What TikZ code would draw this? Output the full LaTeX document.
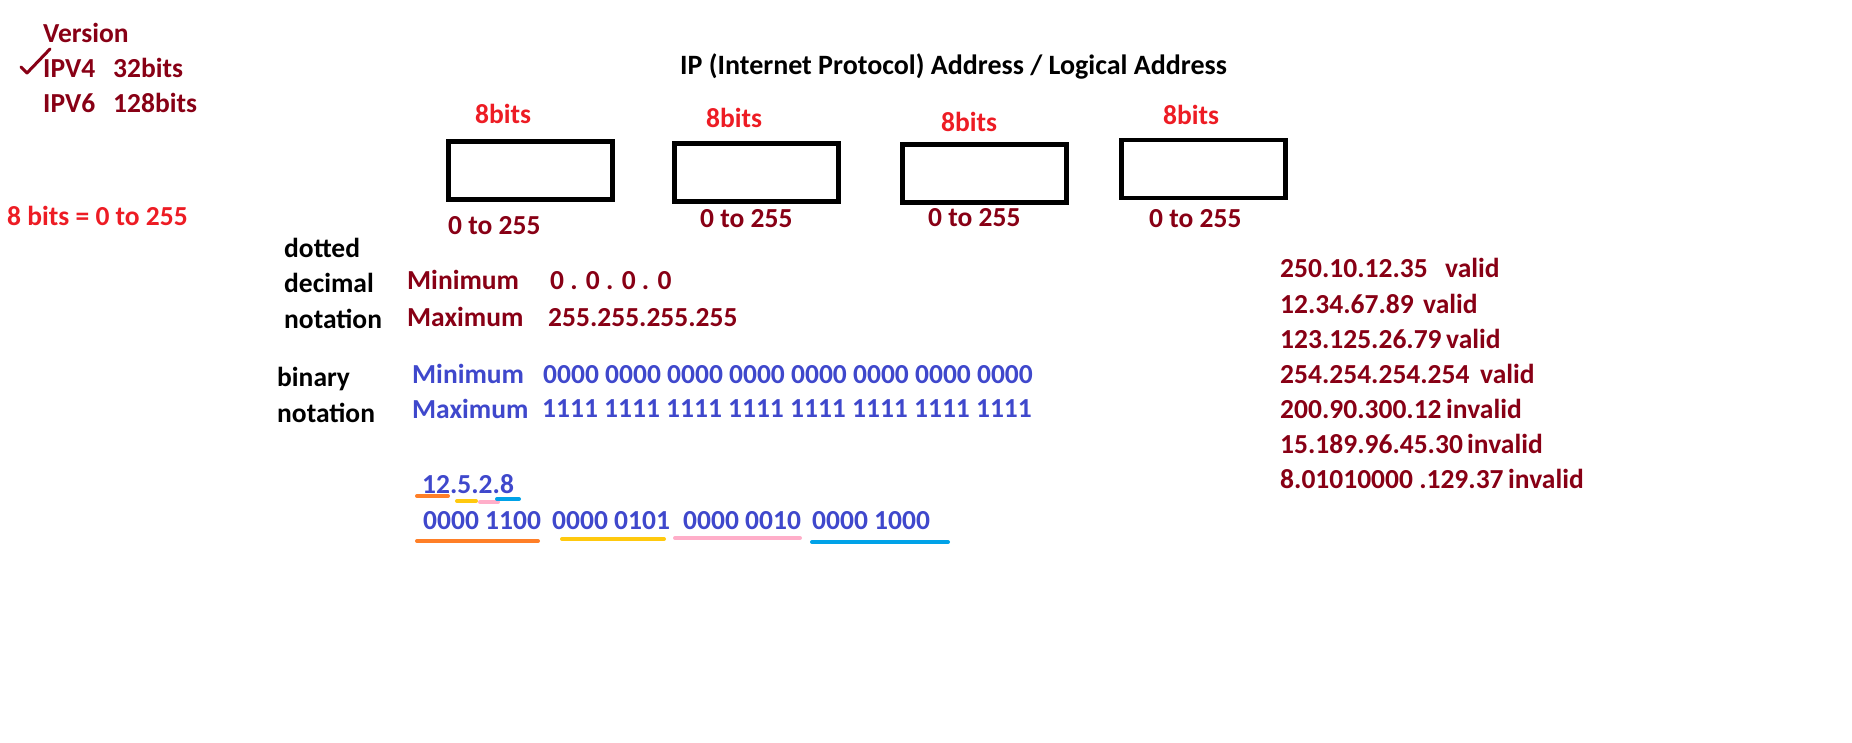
\documentclass[tikz,border=0pt]{standalone}
\usepackage{fontspec}
\setmainfont{Carlito}
\definecolor{ipmaroon}{HTML}{880015}
\definecolor{ipred}{HTML}{ED1C24}
\definecolor{ipblue}{HTML}{3F48CC}
\definecolor{iporange}{HTML}{FF7F27}
\definecolor{ipyellow}{HTML}{FFC90E}
\definecolor{ippink}{HTML}{FFAEC9}
\definecolor{ipcyan}{HTML}{00A2E8}
\begin{document}
\begin{tikzpicture}[x=1pt,y=-1pt,
    txt/.style={anchor=base west,inner sep=0pt,font=\bfseries\fontsize{27.5}{30}\selectfont},
    maroon/.style={txt,text=ipmaroon},
    redtxt/.style={txt,text=ipred},
    bluetxt/.style={txt,text=ipblue},
    ipbox/.style={draw,line width=4.5pt,minimum width=164pt,minimum height=58pt,inner sep=0pt},
    uline/.style={line width=4pt,line cap=round}]
    \useasboundingbox (0,0) rectangle (1852,743);
    % versions
    \node[maroon] (version) at (43,43) {Version};
    \node[maroon] (ipv4) at (43,78) {IPV4};
    \node[maroon] (ipv4len) at (113,78) {32bits};
    \node[maroon] (ipv6) at (43,113) {IPV6};
    \node[maroon] (ipv6len) at (113,113) {128bits};
    \draw[ipmaroon,line width=3pt,line cap=round,line join=round](21,67)--(27,73)--(50,49);
    \node[redtxt] (range) at (7,226) {8 bits = 0 to 255};
    % title
    \node[txt,font=\bfseries\fontsize{28}{30}\selectfont] (title) at (680,75) {IP (Internet Protocol) Address / Logical Address};
    % four octets
    \node[ipbox] (box1) at (530.5,170.5) {};
    \node[ipbox] (box2) at (756.5,172.5) {};
    \node[ipbox] (box3) at (984.5,173.5) {};
    \node[ipbox] (box4) at (1203.5,169) {};
    \node[redtxt] (bits1) at (475,124) {8bits};
    \node[redtxt] (bits2) at (706,128) {8bits};
    \node[redtxt] (bits3) at (941,132) {8bits};
    \node[redtxt] (bits4) at (1163,125) {8bits};
    \node[maroon] (rng1) at (448,235) {0 to 255};
    \node[maroon] (rng2) at (700,228) {0 to 255};
    \node[maroon] (rng3) at (928,227) {0 to 255};
    \node[maroon] (rng4) at (1149,228) {0 to 255};
    % dotted decimal
    \node[txt] (dotted) at (284,258) {dotted};
    \node[txt] (decimal) at (284,293) {decimal};
    \node[txt] (notation1) at (284,328) {notation};
    \node[maroon] (dmin) at (407,290) {Minimum};
    \node[maroon] (dminval) at (550,290) {0 . 0 . 0 . 0};
    \node[maroon] (dmax) at (407,326) {Maximum};
    \node[maroon] (dmaxval) at (548,326) {255.255.255.255};
    % binary
    \node[txt] (binary) at (277,386) {binary};
    \node[txt] (notation2) at (277,422) {notation};
    \node[bluetxt] (bmin) at (412,383) {Minimum};
    \node[bluetxt] (bminval) at (543,383) {0000 0000 0000 0000 0000 0000 0000 0000};
    \node[bluetxt] (bmax) at (412,418) {Maximum};
    \node[bluetxt] (bmaxval) at (542,417) {1111 1111 1111 1111 1111 1111 1111 1111};
    % example
    \node[bluetxt] (example) at (422,493) {12.5.2.8};
    \node[bluetxt] (oct1) at (423,529) {0000 1100};
    \node[bluetxt] (oct2) at (552,529) {0000 0101};
    \node[bluetxt] (oct3) at (683,529) {0000 0010};
    \node[bluetxt] (oct4) at (812,529) {0000 1000};
    \draw[uline,iporange](417,496)--(448,496);
    \draw[uline,ipyellow](457,501)--(476,501);
    \draw[uline,ippink](480,502)--(498,502);
    \draw[uline,ipcyan](497,499)--(519,499);
    \draw[uline,iporange](417,541)--(538,541);
    \draw[uline,ipyellow](562,539)--(664,539);
    \draw[uline,ippink](675,538)--(800,538);
    \draw[uline,ipcyan](812,542)--(948,542);
    % valid / invalid
    \foreach \addr/\res/\rx [count=\i] in {250.10.12.35/valid/1445,12.34.67.89/valid/1423,
        123.125.26.79/valid/1446,254.254.254.254/valid/1480,200.90.300.12/invalid/1446,
        15.189.96.45.30/invalid/1467,8.01010000 .129.37/invalid/1508}{
        \node[maroon] (addr\i) at (1280,243+35*\i) {\addr};
        \node[maroon] (res\i) at (\rx,243+35*\i) {\res};
    }
\end{tikzpicture}
\end{document}
